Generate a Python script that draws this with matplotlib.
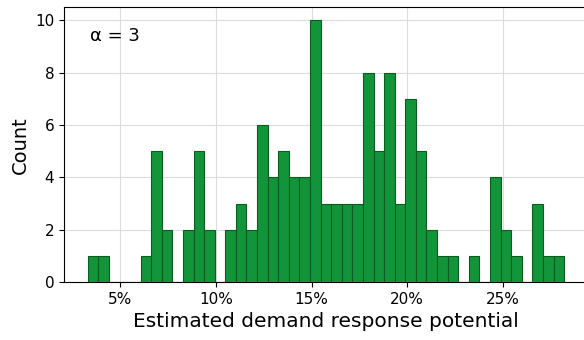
import numpy as np
import matplotlib
matplotlib.use("Agg")
import matplotlib.pyplot as plt
from matplotlib.ticker import PercentFormatter

# histogram: 45 bins between ~3.3% and ~28.2%
bin_lo = 0.0331
bin_hi = 0.2819
counts = [1, 1, 0, 0, 0, 1, 5, 2, 0, 2, 5, 2, 0, 2, 3, 2, 6, 4, 5, 4, 4, 10,
          3, 3, 3, 3, 8, 5, 8, 3, 7, 5, 2, 1, 1, 0, 1, 0, 4, 2, 1, 0, 3, 1, 1]
alpha_label = "α = 3"

edges = np.linspace(bin_lo, bin_hi, len(counts) + 1)
centers = (edges[:-1] + edges[1:]) / 2

fig = plt.figure(figsize=(5.84, 3.40), dpi=100)
# right edge of the axes runs slightly past the figure, as in the original crop
ax = fig.add_axes([0.1096, 0.1706, 0.8973, 0.808])
ax.hist(centers, bins=edges, weights=counts, color='#12953a',
        edgecolor='#0a5c1e', linewidth=0.8, zorder=3)
ax.set_xlim(0.02076, 0.2944)

ax.xaxis.set_major_formatter(PercentFormatter(1, decimals=0))
ax.set_xticks([0.05, 0.10, 0.15, 0.20, 0.25])
ax.set_yticks([0, 2, 4, 6, 8, 10])
ax.grid(True, color='#dcdcdc', linewidth=0.8, zorder=0)
ax.tick_params(labelsize=11)
ax.set_xlabel('Estimated demand response potential', fontsize=14.5)
ax.set_ylabel('Count', fontsize=14)
ax.text(0.05, 0.93, alpha_label, transform=ax.transAxes, fontsize=13,
        va='top', ha='left')

fig.savefig('out.png', dpi=100)
